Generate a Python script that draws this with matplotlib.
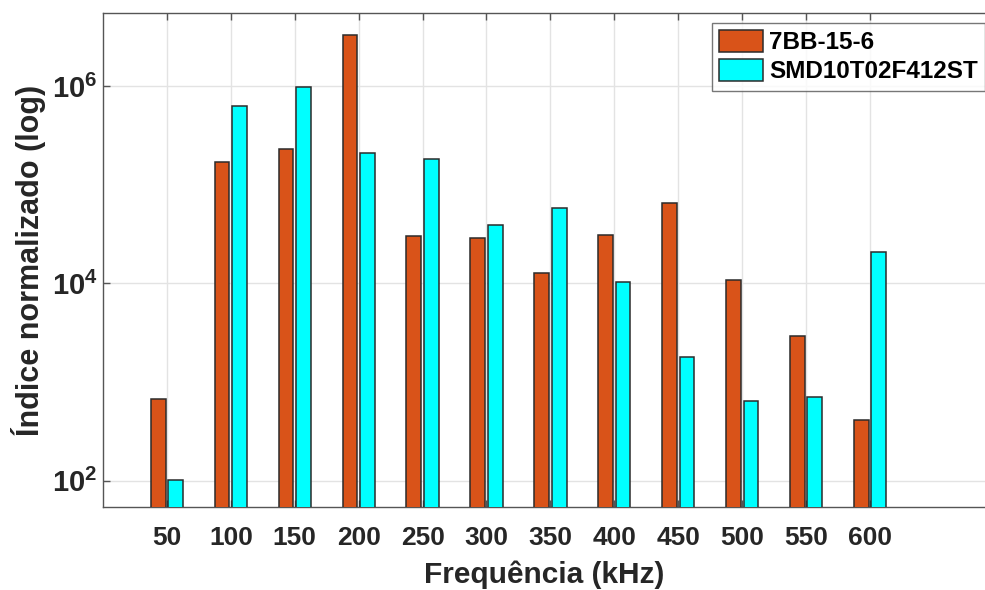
import numpy as np
import matplotlib
matplotlib.use("Agg")
import matplotlib.pyplot as plt

plt.rcParams['font.family'] = ['Liberation Sans', 'DejaVu Sans']
plt.rcParams['font.weight'] = 'bold'
plt.rcParams['mathtext.fontset'] = 'custom'
plt.rcParams['mathtext.rm'] = 'Liberation Sans:bold'
plt.rcParams['mathtext.bf'] = 'Liberation Sans:bold'
plt.rcParams['mathtext.it'] = 'Liberation Sans:bold'

freqs = ["50", "100", "150", "200", "250", "300", "350", "400", "450", "500", "550", "600"]
bb7 = [664, 1.69e5, 2.29e5, 3.3e6, 3.0e4, 2.86e4, 1.26e4, 3.07e4, 6.5e4, 1.07e4, 2.9e3, 416]
smd = [102, 6.27e5, 9.8e5, 2.09e5, 1.82e5, 3.88e4, 5.77e4, 1.02e4, 1.77e3, 634, 697, 2.07e4]
names = ["7BB-15-6", "SMD10T02F412ST"]
yticks = [1e2, 1e4, 1e6]
ylabels = [r"$10^{2}$", r"$10^{4}$", r"$10^{6}$"]

txt = "#262626"
fig = plt.figure(figsize=(9.85, 5.9), dpi=100)
ax = fig.add_axes([0.1046, 0.1407, 0.8954, 0.8373])

x = np.arange(1, len(freqs) + 1)
w = 0.23
off = 0.137
ax.bar(x - off, bb7, w, color="#D95319", edgecolor="#2b2b2b", linewidth=1.1, label=names[0], zorder=3)
ax.bar(x + off, smd, w, color="#00FFFF", edgecolor="#2b2b2b", linewidth=1.1, label=names[1], zorder=3)

ax.set_yscale("log")
ax.set_ylim(54, 5.5e6)
ax.set_xlim(0, 13.8)
ax.set_xticks(x)
ax.set_xticklabels(freqs)
ax.set_yticks(yticks)
ax.set_yticklabels(ylabels)
ax.yaxis.set_minor_locator(matplotlib.ticker.NullLocator())
ax.tick_params(axis="both", which="major", direction="in", length=5, width=1,
               color="#555555", labelcolor=txt, top=True)
ax.tick_params(axis="x", labelsize=19, pad=14)
ax.tick_params(axis="y", labelsize=21, pad=4)
ax.grid(True, color="#e3e3e3", linewidth=1, zorder=0)
ax.set_axisbelow(True)
for s in ["left", "bottom", "top"]:
    ax.spines[s].set_color("#555555")
    ax.spines[s].set_linewidth(1)
ax.spines["right"].set_visible(False)

ax.set_xlabel("Frequência (kHz)", fontsize=21.5, fontweight="bold", color=txt, labelpad=7)
ax.set_ylabel("Índice normalizado (log)", fontsize=22, fontweight="bold", color=txt, labelpad=4)

leg = ax.legend(loc="upper right", bbox_to_anchor=(1.0, 0.98), fontsize=17.5, frameon=True,
                fancybox=False, edgecolor="#555555", handlelength=1.8, handleheight=1.0,
                borderpad=0.3, labelspacing=0.2, handletextpad=0.25, borderaxespad=0.0)
leg.get_frame().set_linewidth(1)
for t in leg.get_texts():
    t.set_color("black")

fig.savefig("out.png", dpi=100)
